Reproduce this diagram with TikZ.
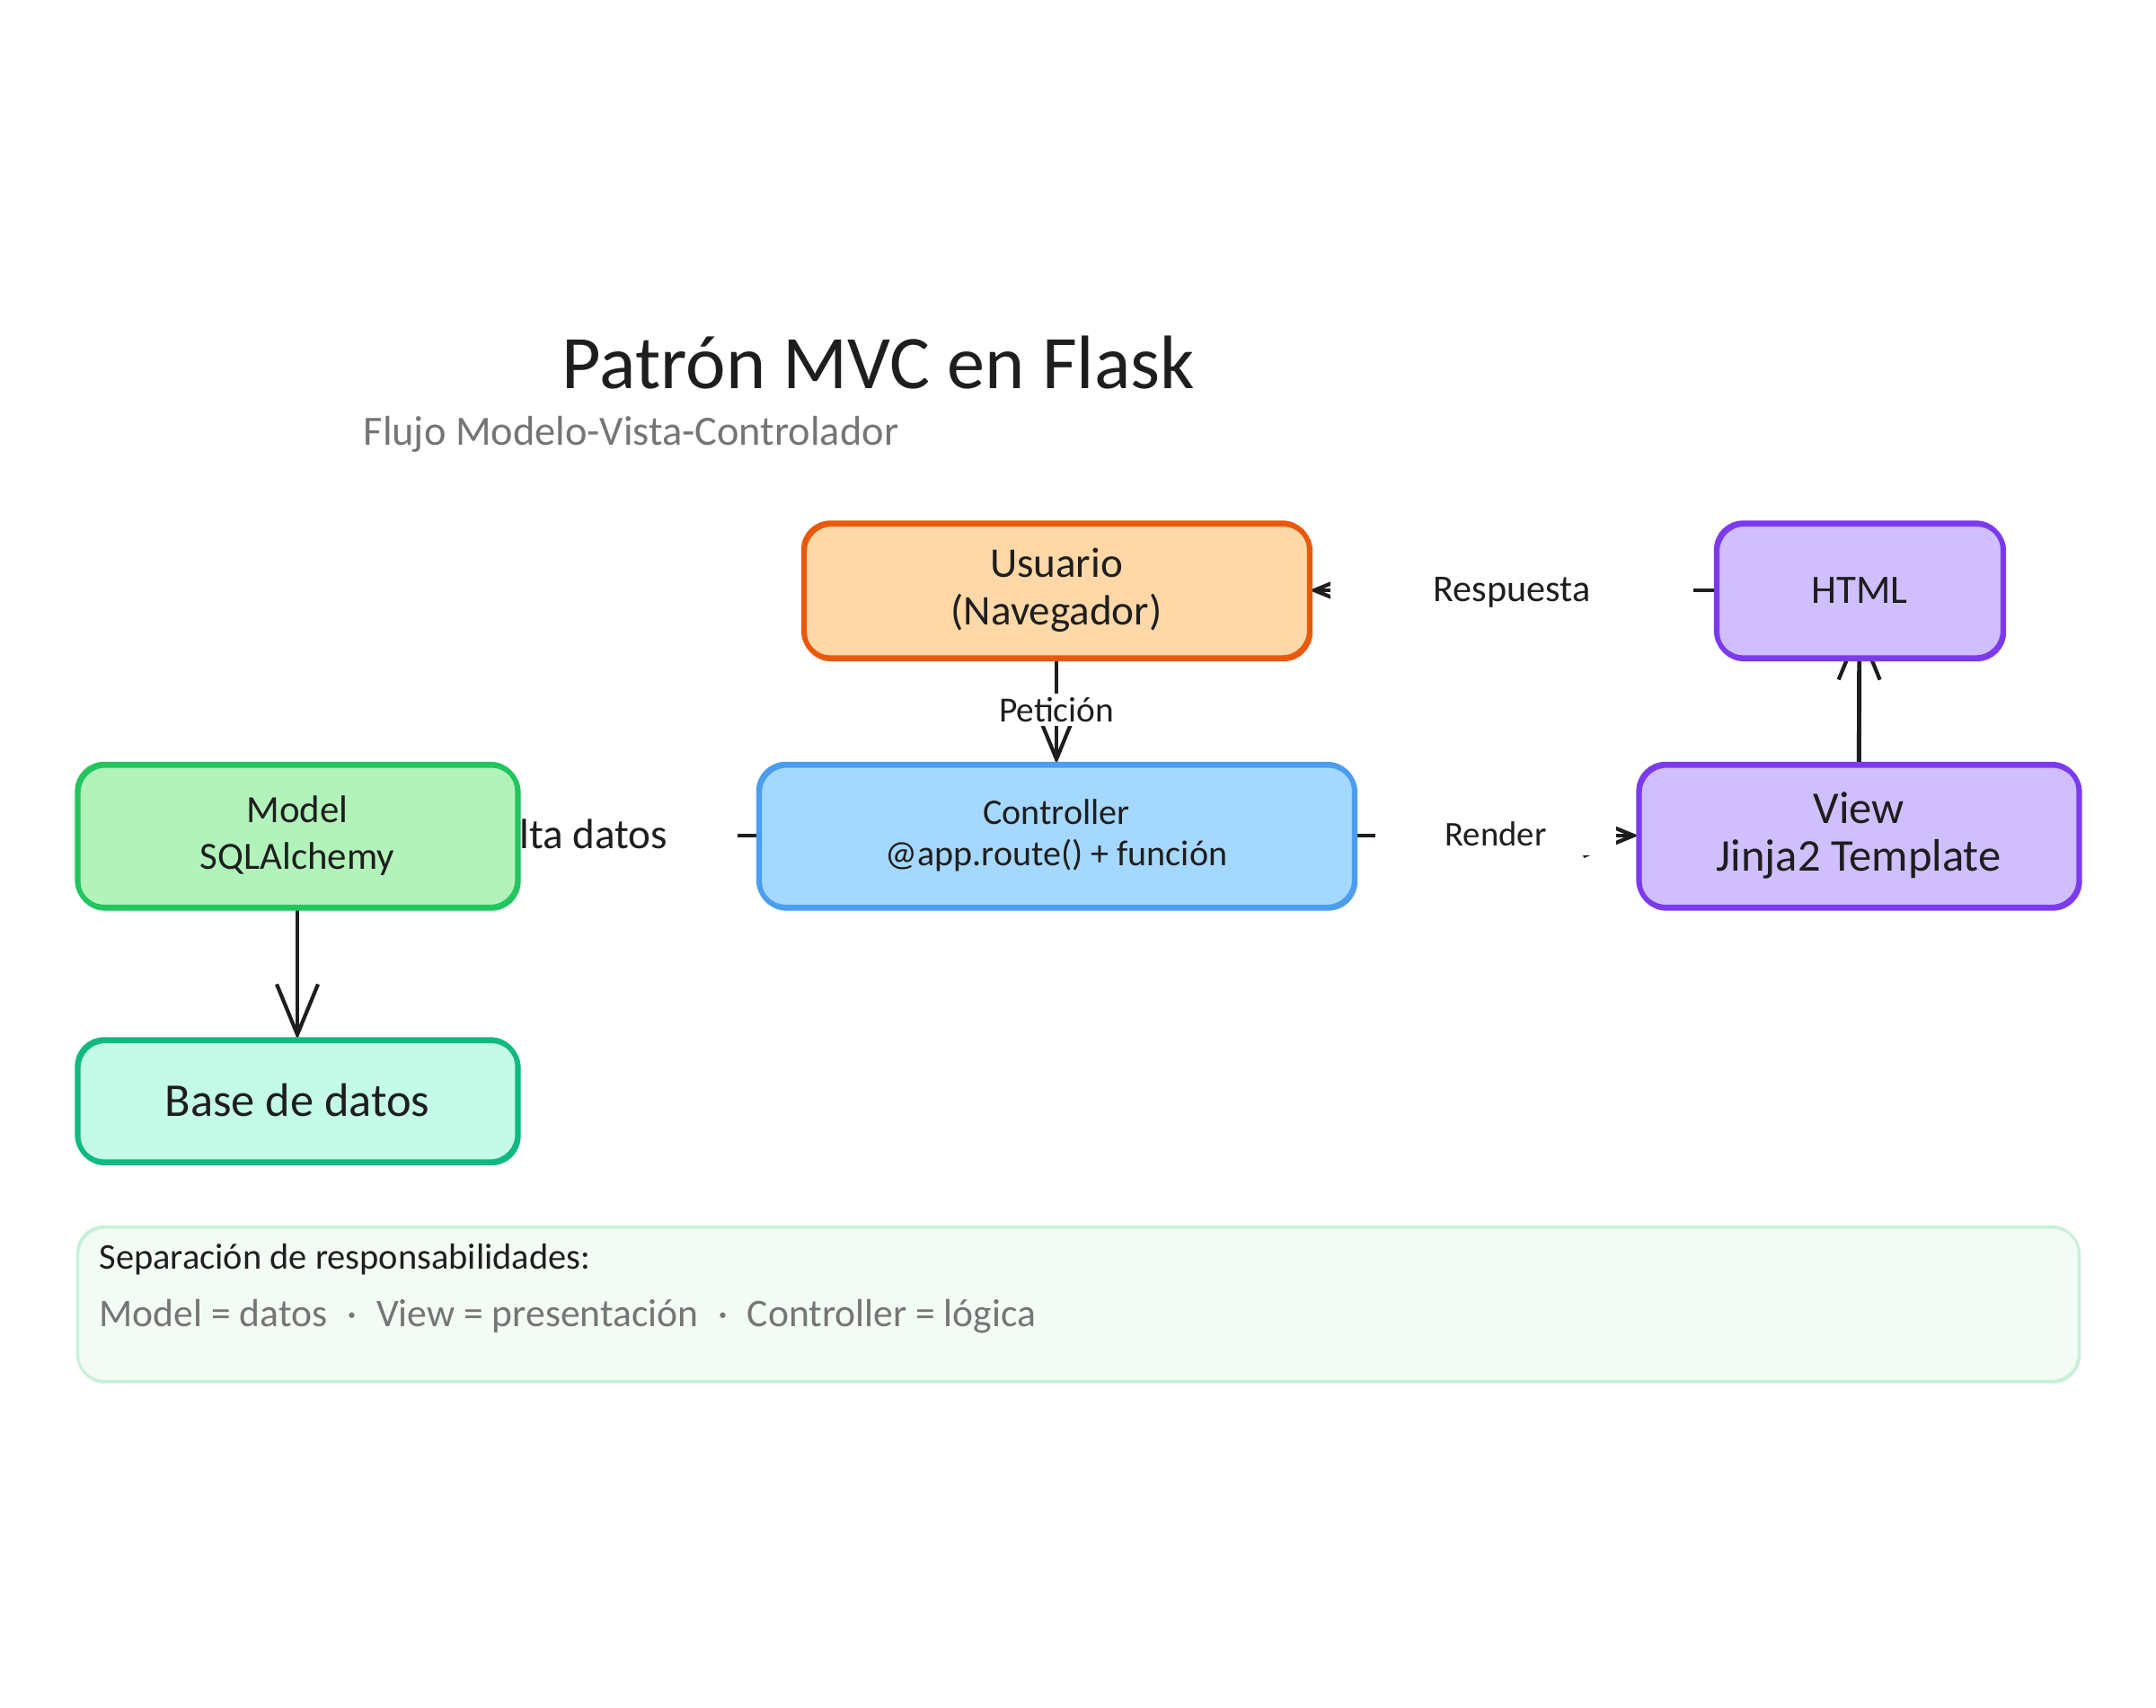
\documentclass[tikz,border=0pt]{standalone}
\usepackage{fontspec}
\setmainfont{Carlito}
\usetikzlibrary{arrows.meta}
\definecolor{ink}{HTML}{1E1E1E}
\definecolor{mutedink}{HTML}{757575}
\definecolor{usuariofill}{HTML}{FFD8A8}
\definecolor{usuarioline}{HTML}{E8590C}
\definecolor{controlfill}{HTML}{A5D8FF}
\definecolor{controlline}{HTML}{4A9EED}
\definecolor{viewfill}{HTML}{D0BFFF}
\definecolor{viewline}{HTML}{7C3AED}
\definecolor{modelfill}{HTML}{B2F2BB}
\definecolor{modelline}{HTML}{22C55E}
\definecolor{basefill}{HTML}{C3FAE8}
\definecolor{baseline}{HTML}{10B981}
\definecolor{notefill}{HTML}{F3FBF5}
\definecolor{noteline}{HTML}{C8F0D8}
\pgfdeclarelayer{back}
\pgfsetlayers{back,main}
\tikzset{
    box/.style={draw, line width=1.5pt, rounded corners=0.3cm, outer sep=0pt, align=center, text=ink, inner sep=0pt,
        postaction={draw, transform canvas={shift={(0.01, -0.015)}}}},
    flow/.style={draw=ink, line width=1.4pt, -{Straight Barb[length=0.56cm, width=0.46cm, line width=1.2pt]}},
    flowlabel/.style={fill=white, text=ink, inner ysep=0.1cm},
}
\begin{document}
\begin{tikzpicture}
    \useasboundingbox (0, 0) rectangle (24, 19);

    \node[text=ink, font=\fontsize{24}{28}\selectfont] (title) at (9.78, 14.96) {Patrón MVC en Flask};
    \node[anchor=west, text=mutedink, font=\fontsize{13.2}{15}\selectfont, inner sep=0pt] (subtitle) at (4.04, 14.17) {Flujo Modelo-Vista-Controlador};

    \node[box, draw=usuarioline, fill=usuariofill, minimum width=5.63cm, minimum height=1.50cm, font=\fontsize{13.4}{15}\selectfont] (usuario) at (11.76, 12.43) {Usuario\\(Navegador)};
    \node[box, draw=viewline, fill=viewfill, minimum width=3.19cm, minimum height=1.50cm, font=\fontsize{12.8}{15}\selectfont] (html) at (20.70, 12.43) {HTML};
    \node[box, draw=controlline, fill=controlfill, minimum width=6.63cm, minimum height=1.59cm, font=\fontsize{11.4}{13}\selectfont] (controller) at (11.76, 9.70) {Controller\\@app.route() + función};
    \node[box, draw=viewline, fill=viewfill, minimum width=4.90cm, minimum height=1.59cm, font=\fontsize{14.4}{15}\selectfont] (view) at (20.69, 9.70) {View\\Jinja2 Template};
    \node[box, draw=modelline, fill=modelfill, minimum width=4.90cm, minimum height=1.59cm, font=\fontsize{12.2}{15}\selectfont] (model) at (3.31, 9.70) {Model\\SQLAlchemy};
    \node[box, draw=baseline, fill=basefill, minimum width=4.90cm, minimum height=1.36cm, font=\fontsize{14.9}{17}\selectfont] (base) at (3.31, 6.75) {Base de datos};

    \node[box, draw=noteline, fill=notefill, line width=0.7pt, minimum width=22.28cm, minimum height=1.72cm] (note) at (12.00, 4.49) {};
    \node[anchor=west, text=ink, font=\fontsize{11.5}{13}\selectfont, inner sep=0pt] (notehead) at (1.10, 4.98) {Separación de responsabilidades:};
    \node[anchor=west, text=mutedink, font=\fontsize{12.4}{14}\selectfont, inner sep=0pt] (notebody) at (1.10, 4.35) {Model = datos\enspace·\enspace View = presentación\enspace·\enspace Controller = lógica};

    \begin{pgfonlayer}{back}
        \draw[flow] (usuario) -- (controller);
        \draw[flow] (controller) -- (view);
        \draw[flow] (controller) -- (model);
        \draw[flow, shorten >=-0.37cm] (view) -- (html);
        \draw[flow] (html) -- (usuario);
        \draw[flow] (model) -- (base);
        \node[flowlabel, inner xsep=0.1cm, inner ysep=0.04cm, font=\fontsize{11.2}{13}\selectfont] (peticion) at (11.76, 11.10) {Petición};
        \node[flowlabel, inner xsep=0.78cm, font=\fontsize{11}{13}\selectfont] (render) at (16.65, 9.72) {Render};
        \node[flowlabel, inner xsep=1.15cm, font=\fontsize{12}{14}\selectfont] (respuesta) at (16.83, 12.41) {Respuesta};
        \node[flowlabel, anchor=east, inner xsep=0.78cm, inner ysep=0.25cm, font=\fontsize{13.4}{15}\selectfont] (consulta) at (8.22, 9.72) {Consulta datos};
    \end{pgfonlayer}
\end{tikzpicture}
\end{document}
